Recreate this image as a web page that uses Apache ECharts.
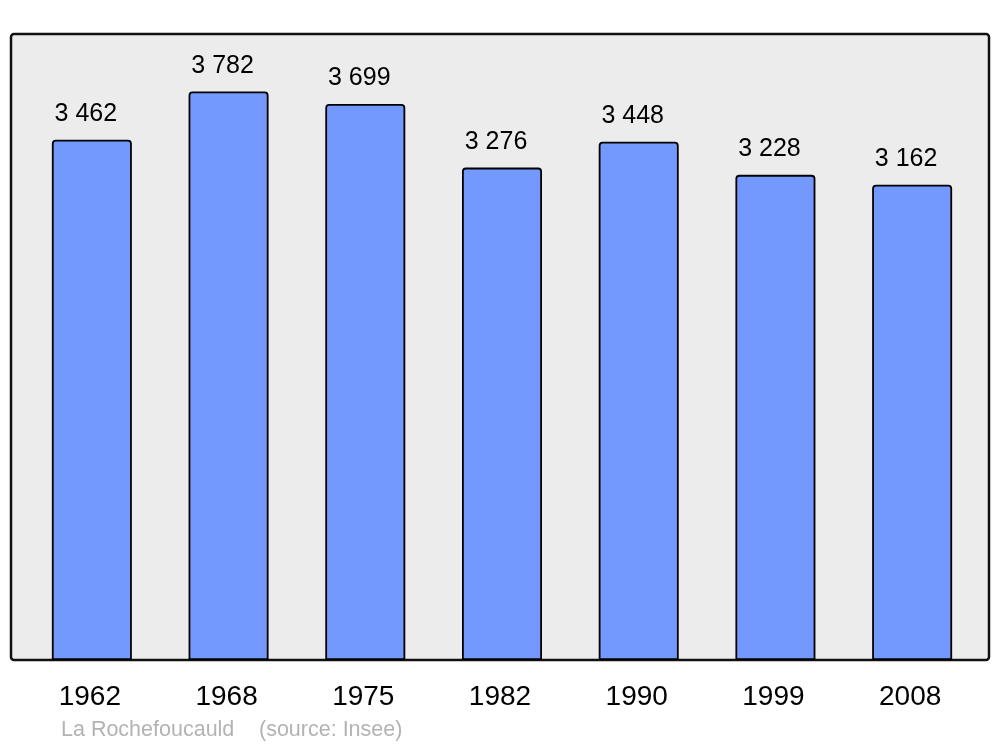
<!DOCTYPE html>
<html>
<head>
<meta charset="utf-8">
<script src="https://cdn.jsdelivr.net/npm/echarts@6/dist/echarts.min.js"></script>
<style>
  html, body { margin: 0; padding: 0; background: #ffffff; }
</style>
</head>
<body>
<div id="main" style="width: 1000px;height: 747px;"></div>
<script>
const years = ['1962', '1968', '1975', '1982', '1990', '1999', '2008']
const population = [3462, 3782, 3699, 3276, 3448, 3228, 3162]
const placeName = 'La Rochefoucauld'
const sourceText = '(source: Insee)'

const fmt = v => String(v).replace(/\B(?=(\d{3})+(?!\d))/g, ' ')

const myChart = echarts.init(document.getElementById('main'))
let option = {
  backgroundColor: '#ffffff',
  animation: false,
  textStyle: { fontFamily: '"Liberation Sans", Arial, sans-serif' },
  graphic: [
    {
      type: 'rect',
      z: -10,
      shape: { x: 11, y: 34, width: 978, height: 626, r: 3 },
      style: { fill: '#ececec', stroke: '#111111', lineWidth: 2.5 }
    },
    {
      type: 'text',
      left: 61,
      top: 719,
      style: { text: placeName, fill: '#b3b3b3', font: '21.5px "Liberation Sans", Arial, sans-serif' }
    },
    {
      type: 'text',
      left: 259,
      top: 719,
      style: { text: sourceText, fill: '#b3b3b3', font: '21.5px "Liberation Sans", Arial, sans-serif' }
    }
  ],
  grid: {
    left: 23.5,
    right: 19.5,
    top: 34,
    bottom: 87,
    containLabel: false
  },
  xAxis: {
    type: 'category',
    data: years,
    axisLine: { show: false },
    axisTick: { show: false },
    axisLabel: {
      margin: 23,
      fontSize: 28,
      color: '#000000',
      padding: [0, 4, 0, 0]
    }
  },
  yAxis: {
    type: 'value',
    min: 0,
    max: 4165,
    show: false,
    splitLine: { show: false }
  },
  series: [
    {
      type: 'bar',
      data: population,
      barWidth: 80,
      itemStyle: {
        color: '#7399ff',
        borderColor: '#000000',
        borderWidth: 1.8,
        borderRadius: [3, 3, 0, 0]
      },
      label: {
        show: true,
        position: 'top',
        distance: 13,
        offset: [-6, 0],
        fontSize: 25,
        color: '#000000',
        formatter: p => fmt(p.value)
      }
    }
  ]
}
option && myChart.setOption(option)
</script>
</body>
</html>
